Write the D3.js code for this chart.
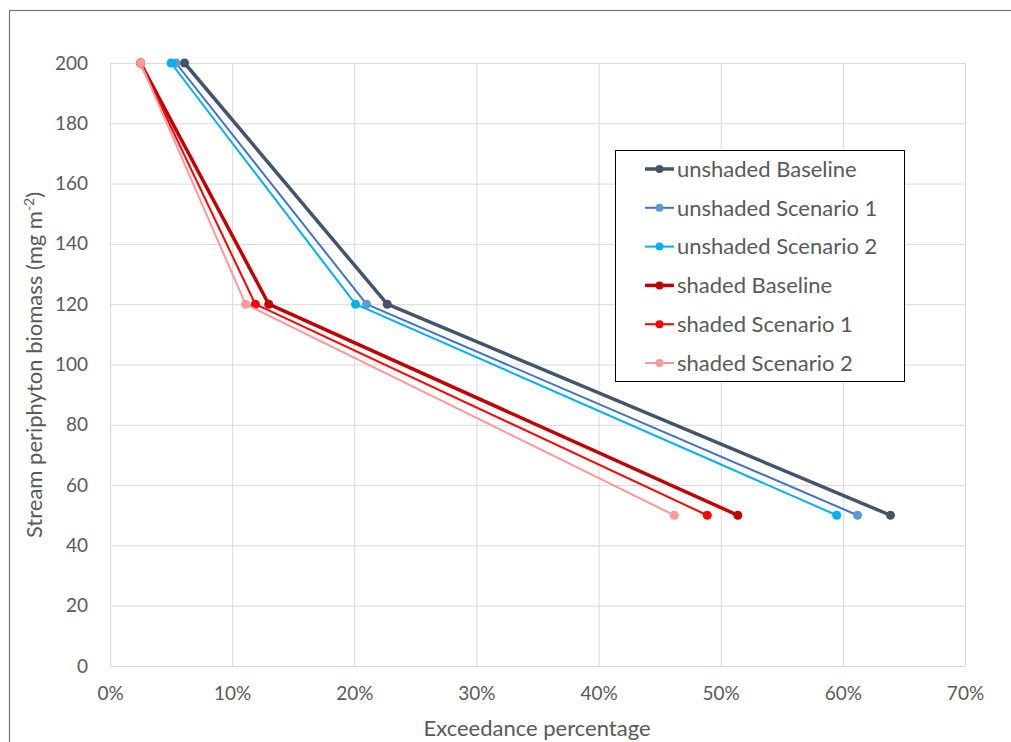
<!DOCTYPE html>
<html>
<head>
<meta charset="utf-8">
<script src="https://cdn.jsdelivr.net/npm/d3@7"></script>
<style>
  body { margin: 0; background: #fff; }
  text { font-family: Lato, "Open Sans", sans-serif; fill: #595959; }
</style>
</head>
<body>
<svg width="1011" height="742"></svg>
<script>
// biomass levels (mg m-2)
const biomass = [200, 120, 50];

// exceedance percentage (%) per series, matching biomass order
const unshadedBaseline = [6.1, 22.7, 63.9];
const unshadedScenario1 = [5.4, 21.0, 61.2];
const unshadedScenario2 = [5.0, 20.1, 59.5];
const shadedBaseline = [2.5, 13.0, 51.4];
const shadedScenario1 = [2.5, 11.9, 48.9];
const shadedScenario2 = [2.5, 11.1, 46.2];

const seriesNames = [
  "unshaded Baseline",
  "unshaded Scenario 1",
  "unshaded Scenario 2",
  "shaded Baseline",
  "shaded Scenario 1",
  "shaded Scenario 2",
];

const xTicks = [0, 10, 20, 30, 40, 50, 60, 70];
const yTicks = [0, 20, 40, 60, 80, 100, 120, 140, 160, 180, 200];

const series = [
  { name: seriesNames[0], values: unshadedBaseline, line: "#44546a", marker: "#44546a", width: 3.5 },
  { name: seriesNames[1], values: unshadedScenario1, line: "#4472c4", marker: "#5b9bd5", width: 2 },
  { name: seriesNames[2], values: unshadedScenario2, line: "#00b0f0", marker: "#00b0f0", width: 2 },
  { name: seriesNames[3], values: shadedBaseline, line: "#c00000", marker: "#c00000", width: 3.5 },
  { name: seriesNames[4], values: shadedScenario1, line: "#ff0000", marker: "#ff0000", width: 2 },
  { name: seriesNames[5], values: shadedScenario2, line: "#ff9999", marker: "#ff9999", width: 2 },
];

const svg = d3.select("svg");

// outer chart frame
svg.append("rect")
  .attr("x", 9.5)
  .attr("y", 10.5)
  .attr("width", 1100)
  .attr("height", 800)
  .attr("fill", "none")
  .attr("stroke", "#767676")
  .attr("stroke-width", 1.2);

const x = d3.scaleLinear().domain([0, 70]).range([110, 965]);
const y = d3.scaleLinear().domain([0, 200]).range([666, 63]);

// gridlines
const grid = svg.append("g").attr("id", "grid");

grid.append("g")
  .attr("transform", "translate(0,666)")
  .call(d3.axisBottom(x).tickValues(xTicks).tickSize(-(666 - 63)).tickFormat(""))
  .call((g) => g.select(".domain").remove())
  .call((g) => g.selectAll("line").attr("stroke", "#d9d9d9").attr("stroke-width", 1));

grid.append("g")
  .attr("transform", "translate(110,0)")
  .call(d3.axisLeft(y).tickValues(yTicks).tickSize(-(965 - 110)).tickFormat(""))
  .call((g) => g.select(".domain").remove())
  .call((g) => g.selectAll("line").attr("stroke", "#d9d9d9").attr("stroke-width", 1));

// axis labels
svg.append("g")
  .attr("transform", "translate(0,666)")
  .call(d3.axisBottom(x).tickValues(xTicks).tickSize(0).tickPadding(21).tickFormat((d) => d + "%"))
  .call((g) => g.select(".domain").remove())
  .call((g) => g.selectAll("text").style("font-size", "19px").style("font-family", "Lato, sans-serif").attr("fill", "#595959"));

svg.append("g")
  .attr("transform", "translate(110,0)")
  .call(d3.axisLeft(y).tickValues(yTicks).tickSize(0).tickPadding(22))
  .call((g) => g.select(".domain").remove())
  .call((g) => g.selectAll("text").style("font-size", "19px").style("font-family", "Lato, sans-serif").attr("fill", "#595959"));

// axis titles
svg.append("text")
  .attr("x", 537)
  .attr("y", 736)
  .attr("text-anchor", "middle")
  .style("font-size", "22px")
  .text("Exceedance percentage");

const yTitle = svg.append("text")
  .attr("transform", "translate(42,365) rotate(-90)")
  .attr("text-anchor", "middle")
  .style("font-size", "22px");
yTitle.append("tspan").text("Stream periphyton biomass (mg m");
yTitle.append("tspan").attr("dy", -8).style("font-size", "14px").text("-2");
yTitle.append("tspan").attr("dy", 8).text(")");

// series
const line = d3.line()
  .x((d) => x(d[0]))
  .y((d) => y(d[1]));

const plot = svg.append("g").attr("id", "series");

series.forEach((s) => {
  const pts = s.values.map((v, i) => [v, biomass[i]]);
  const g = plot.append("g");
  g.append("path")
    .attr("d", line(pts))
    .attr("fill", "none")
    .attr("stroke", s.line)
    .attr("stroke-width", s.width)
    .attr("stroke-linejoin", "round");
  g.selectAll("circle")
    .data(pts)
    .enter()
    .append("circle")
    .attr("cx", (d) => x(d[0]))
    .attr("cy", (d) => y(d[1]))
    .attr("r", 4.5)
    .attr("fill", s.marker);
});

// legend
const legend = svg.append("g").attr("id", "legend");

legend.append("rect")
  .attr("x", 615.5)
  .attr("y", 150.5)
  .attr("width", 289)
  .attr("height", 231)
  .attr("fill", "#fff")
  .attr("stroke", "#000")
  .attr("stroke-width", 1);

const items = legend.selectAll("g.item")
  .data(series)
  .enter()
  .append("g")
  .attr("class", "item")
  .attr("transform", (d, i) => `translate(0,${169 + i * 38.8})`);

items.append("line")
  .attr("x1", 645)
  .attr("x2", 674)
  .attr("stroke", (d) => d.line)
  .attr("stroke-width", (d) => d.width);

items.append("circle")
  .attr("cx", 659.5)
  .attr("r", 4)
  .attr("fill", (d) => d.marker);

items.append("text")
  .attr("x", 677)
  .attr("dy", "0.35em")
  .style("font-size", "22px")
  .text((d) => d.name);
</script>
</body>
</html>
